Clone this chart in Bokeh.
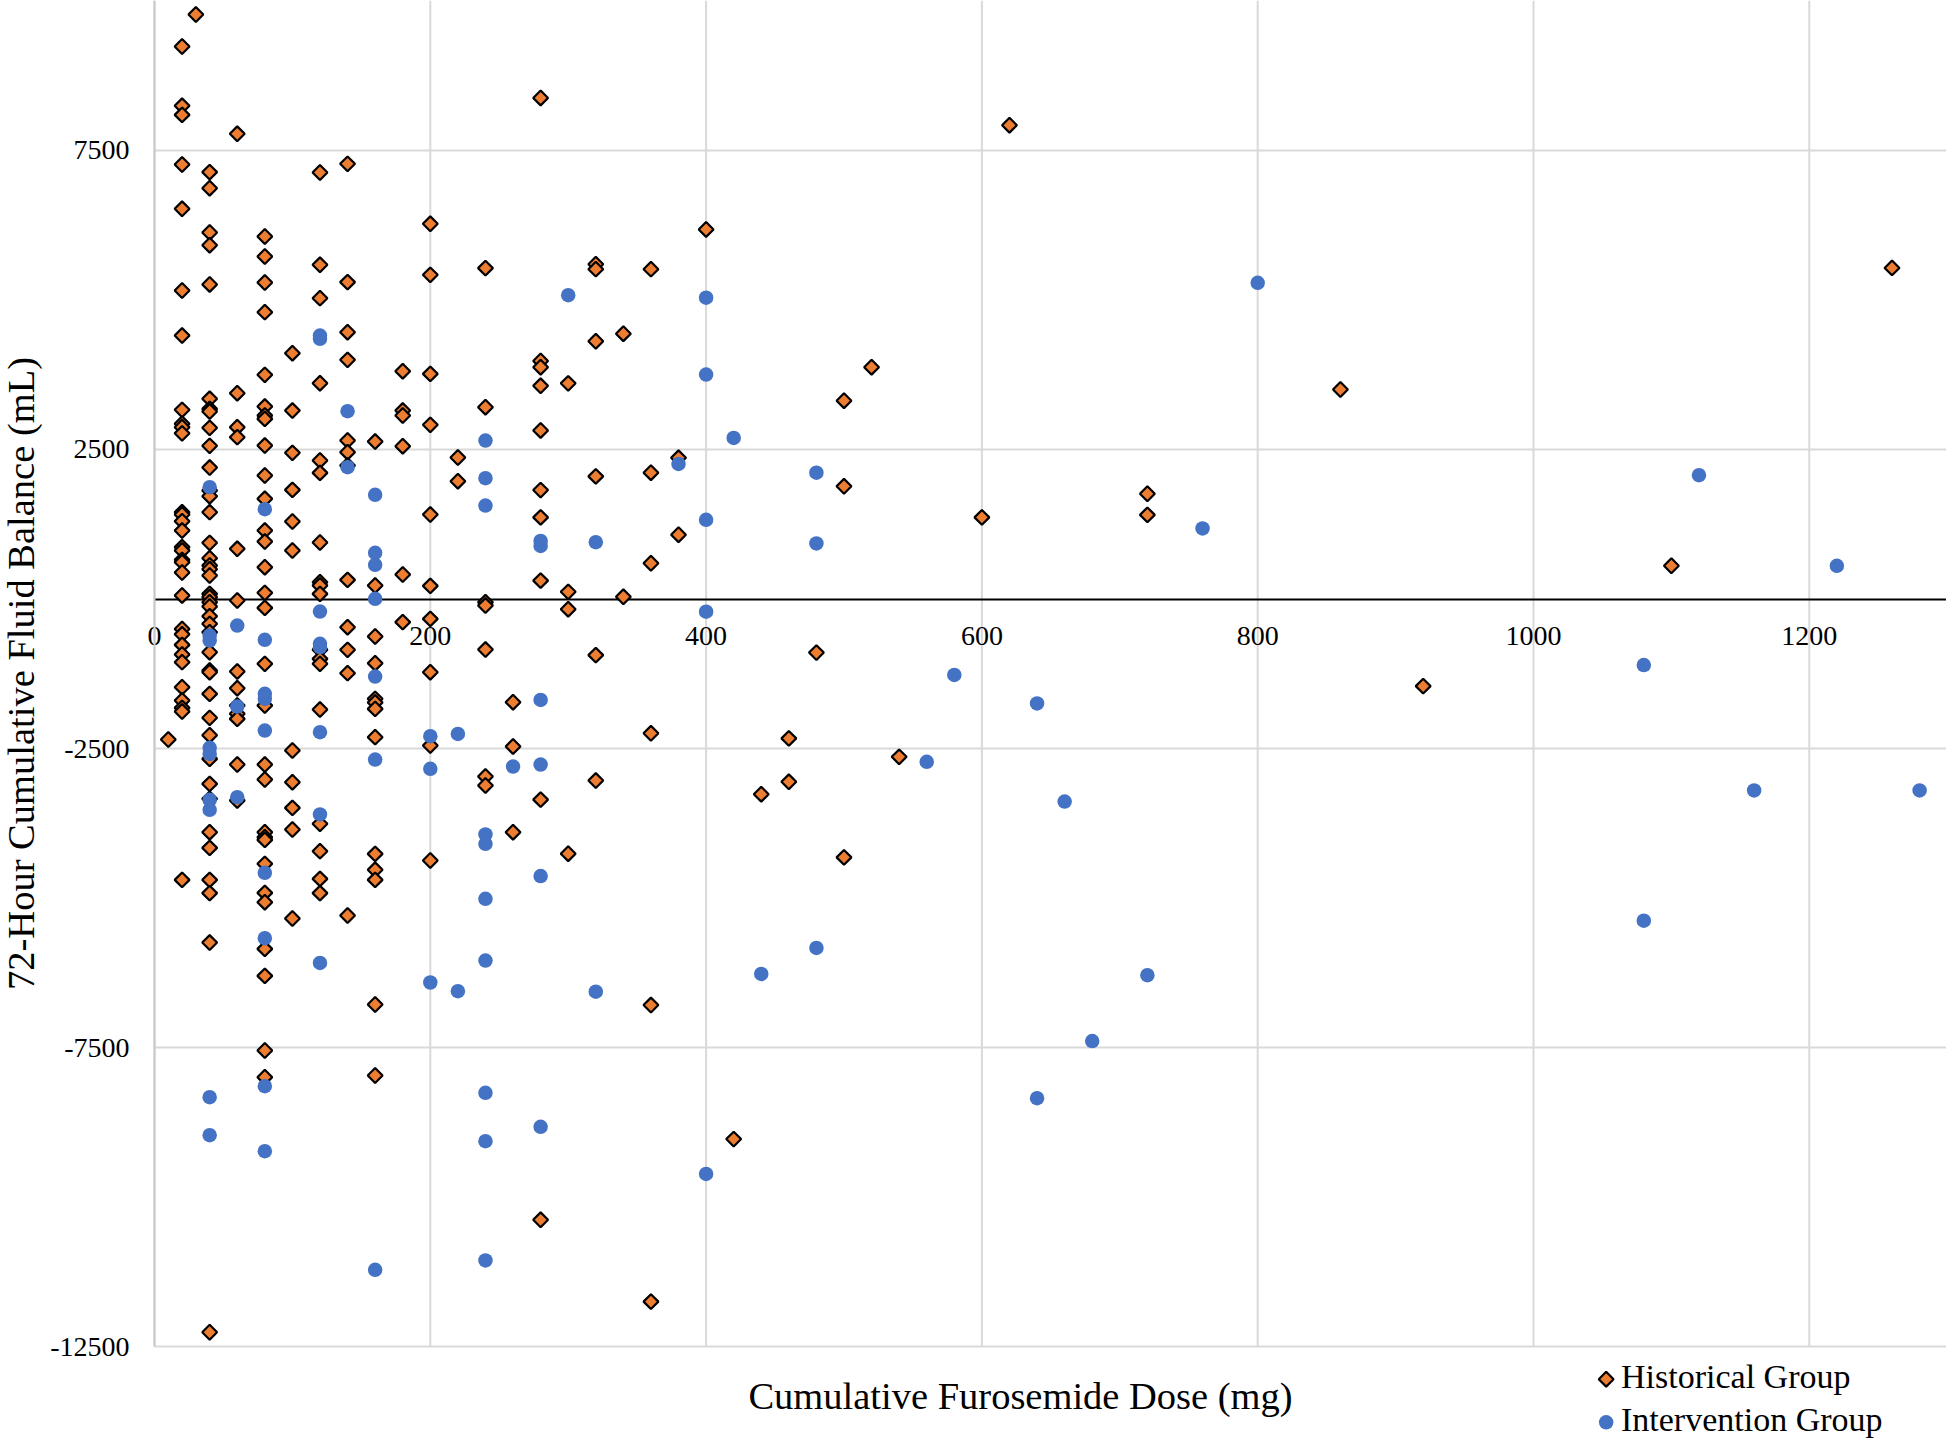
from math import pi
from bokeh.plotting import figure
from bokeh.embed import file_html
from bokeh.resources import INLINE
from bokeh.models import FixedTicker, NumeralTickFormatter, Label, Range1d, Legend, LegendItem

FONT = "Liberation Serif"
x_ticks = [0, 200, 400, 600, 800, 1000, 1200]
y_ticks = [7500, 2500, -2500, -7500, -12500]
x_title = "Cumulative Furosemide Dose (mg)"
y_title = "72-Hour Cumulative Fluid Balance (mL)"

hist_doses = [10, 20, 30, 40, 60, 80, 100, 120, 140, 160, 180, 200, 220, 240, 260, 280, 300, 320, 340, 360,
              380, 400, 420, 440, 460, 480, 500, 520, 540, 600, 620, 720, 860, 920, 1100, 1260]
hist_balance = [
    [-2349],
    [9238, 8246, 8095, 7265, 6524, 5158, 4405, 3163, 2929, 2873, 2770, 1452, 1413, 1301, 1145, 867, 811, 655, 616,
     443, 59, -500, -590, -767, -928, -1056, -1474, -1697, -1820, -1881, -4696],
    [9773],
    [7137, 6869, 6128, 5916, 5259, 3347, 3179, 3135, 2862, 2561, 2198, 1814, 1719, 1452, 939, 683, 560, 499, 393, 86,
     31, -53, -125, -287, -415, -555, -889, -1196, -1224, -1586, -1987, -2277, -2673, -3091, -3341, -3899, -4161,
     -4696, -4918, -5744, -12260],
    [7778, 3441, 2873, 2706, 839, -25, -1212, -1491, -1781, -1920, -2004, -2767, -3369],
    [6061, 5727, 5292, 4796, 3748, 3218, 3068, 3012, 2566, 2065, 1675, 1145, 961, 532, 103, -148, -1084, -1781, -2767,
     -3018, -3899, -3982, -4027, -4428, -4913, -5069, -5850, -6301, -7549, -7995],
    [4110, 3151, 2444, 1825, 1296, 811, -2533, -3063, -3492, -3854, -5342],
    [7131, 5588, 5030, 3608, 2316, 2109, 945, 281, 226, 86, -850, -1001, -1084, -1848, -3759, -4216, -4679, -4918],
    [7276, 5298, 4461, 3999, 2650, 2455, 2232, 320, -471, -850, -1240, -5292],
    [2633, 226, -627, -1073, -1669, -1730, -1837, -2310, -4261, -4528, -4696, -6780, -7967],
    [3809, 3151, 3068, 2555, 410, -387],
    [6273, 5420, 3764, 2912, 1413, 220, -332, -1224, -2450, -4372],
    [2366, 1970],
    [5532, 3207, -53, -109, -845, -2968, -3118],
    [-1725, -2466, -3899],
    [8378, 3980, 3876, 3565, 2818, 1821, 1365, 307, -3354, -10380],
    [3606, 120, -170, -4258],
    [5598, 5515, 4310, 2050, -938, -3035],
    [4436, 37],
    [5515, 2112, 598, -2245, -6789, -11748],
    [2361, 1075],
    [6179],
    [-9030],
    [-3264],
    [-2330, -3056],
    [-896],
    [3316, 1884, -4320],
    [3876],
    [-2639],
    [1365],
    [7922],
    [1760, 1407],
    [3503],
    [-1457],
    [556],
    [5536],
]

int_doses = [40, 60, 80, 120, 140, 160, 200, 220, 240, 260, 280, 300, 320, 380, 400, 420, 440, 480, 560, 580, 640, 660,
             680, 720, 760, 800, 1080, 1120, 1160, 1220, 1280]
int_balance = [
    [1870, -611, -694, -2489, -2590, -3358, -3525, -8330, -8965],
    [-443, -1798, -3313],
    [1502, -683, -1586, -1669, -2199, -4578, -5671, -8146, -9232],
    [4405, 4350, -209, -750, -806, -2227, -3603, -6084],
    [3140, 2204],
    [1742, 772, 571, 3, -1296, -2684, -11216],
    [-2294, -2840, -6412],
    [-2255, -6557],
    [2650, 2020, 1563, -3937, -4094, -5013, -6045, -8257, -9065, -11060],
    [-2801],
    [971, 888, -1688, -2768, -4633, -8825],
    [5080],
    [950, -6565],
    [2258],
    [5038, 3752, 1324, -212, -9612],
    [2693],
    [-6269],
    [2112, 930, -5835],
    [-2722],
    [-1270],
    [-1747, -8346],
    [-3386],
    [-7391],
    [-6289],
    [1179],
    [5287],
    [-1104, -5379],
    [2071],
    [-3200],
    [556],
    [-3200],
]


def flatten(doses, balances):
    xs, ys = [], []
    for d, vals in zip(doses, balances):
        xs += [d] * len(vals)
        ys += vals
    return xs, ys


hx, hy = flatten(hist_doses, hist_balance)
ix, iy = flatten(int_doses, int_balance)

x_end = 1299.5
y_end = 10007
y_low = -12500

p = figure(width=1946, height=1439, frame_width=1946, frame_height=1439,
           x_range=Range1d(-111.68, x_end), y_range=Range1d(-14053, y_end),
           output_backend="svg", toolbar_location=None,
           min_border_left=0, min_border_right=0, min_border_top=0, min_border_bottom=0,
           background_fill_color="white", border_fill_color="white", outline_line_color=None)

p.xaxis.ticker = FixedTicker(ticks=x_ticks)
p.yaxis.ticker = FixedTicker(ticks=y_ticks)
p.yaxis.formatter = NumeralTickFormatter(format="0")
p.xaxis.fixed_location = 0
p.yaxis.fixed_location = 0
p.xaxis.bounds = (0, x_end)
p.yaxis.bounds = (y_low, y_end)
p.xaxis.level = "underlay"
p.yaxis.level = "underlay"
p.xaxis.axis_line_color = "#000000"
p.xaxis.axis_line_width = 2
p.yaxis.axis_line_color = "#C9C9C9"
p.yaxis.axis_line_width = 2
for ax in (p.xaxis, p.yaxis):
    ax.major_tick_line_color = None
    ax.minor_tick_line_color = None
    ax.major_label_text_font = FONT
    ax.major_label_text_font_size = "28px"
    ax.major_label_text_color = "#000000"
p.xaxis.major_label_standoff = 22
p.yaxis.major_label_standoff = 19

# Gridlines stop at the plot area's edges, so they are drawn from the tick lists.
p.grid.visible = False
GRID = "#D9D9D9"
p.segment(x0=x_ticks, y0=[y_low] * len(x_ticks), x1=x_ticks, y1=[y_end] * len(x_ticks),
          line_color=GRID, line_width=2, level="image")
p.segment(x0=[0] * len(y_ticks), y0=y_ticks, x1=[x_end] * len(y_ticks), y1=y_ticks,
          line_color=GRID, line_width=2, level="image")

HIST_STYLE = dict(marker="square", size=10.5, angle=pi / 4, fill_color="#ED7D31", line_color="#000000", line_width=2.2)
INT_STYLE = dict(marker="circle", size=14.5, fill_color="#4472C4", line_color=None)

h = p.scatter(hx, hy, **HIST_STYLE)
c = p.scatter(ix, iy, **INT_STYLE)

# Bokeh's legend ignores marker angle and size, so its glyphs are blank and the keys are drawn beside it.
h_blank = p.scatter([], [], marker="square", fill_alpha=0, line_alpha=0)
c_blank = p.scatter([], [], marker="circle", fill_alpha=0, line_alpha=0)
legend = Legend(items=[LegendItem(label="Historical Group", renderers=[h_blank]),
                       LegendItem(label="Intervention Group", renderers=[c_blank])],
                location=(1596, 0), orientation="vertical",
                label_text_font=FONT, label_text_font_size="34px", label_text_color="#000000",
                glyph_width=20, glyph_height=20, label_standoff=5, spacing=5, padding=0, margin=0,
                border_line_color=None, background_fill_alpha=0)
p.add_layout(legend, "center")
p.scatter([1052.7], [-13045], **HIST_STYLE)
p.scatter([1052.7], [-13765], **INT_STYLE)

p.add_layout(Label(x=628, y=-13334, text=x_title, text_font=FONT, text_font_size="38.5px", text_color="#000000",
                   text_align="center", text_baseline="middle"))
p.add_layout(Label(x=-97, y=-1245, text=y_title, text_font=FONT, text_font_size="38.5px", text_color="#000000",
                   text_align="center", text_baseline="middle", angle=pi / 2))

open("out.html", "w").write(file_html(p, INLINE))
